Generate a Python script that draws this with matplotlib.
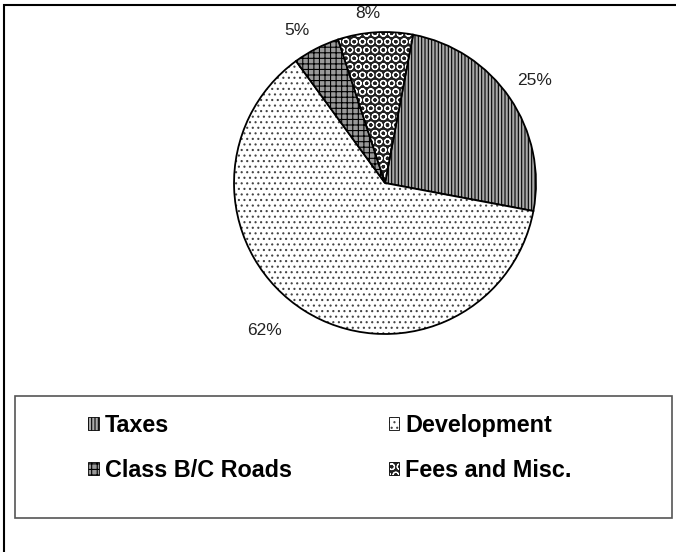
import numpy as np
import matplotlib.pyplot as plt
from matplotlib.patches import Rectangle, Patch
from matplotlib.colors import to_rgba

plt.rcParams['font.family'] = ['Liberation Sans', 'DejaVu Sans']
plt.rcParams['hatch.linewidth'] = 0.8

categories = ['Taxes', 'Development', 'Class B/C Roads', 'Fees and Misc.']
shares = [25, 62, 5, 8]
pct_labels = ['25%', '62%', '5%', '8%']

hatches = ['|' * 5, '...', '+++', 'OO']
faces = ['#aaaaaa', 'white', '#999999', '#222222']
hatch_cols = ['black', '#444444', 'black', 'white']

fig = plt.figure(figsize=(6.76, 5.52), dpi=100)

# outer chart border (right/bottom sides fall off the picture)
fig.add_artist(Rectangle((4 / 676, -0.1), 1.2, 1.1 - 5 / 552, transform=fig.transFigure,
                         fill=False, edgecolor='black', linewidth=1.5))

ax = fig.add_axes([0.3462, 0.3949, 0.4467, 0.5471])
wedges, _ = ax.pie(shares, startangle=79.3, counterclock=False,
                   wedgeprops=dict(edgecolor='black', linewidth=1.3))
for w, h, fc, hc in zip(wedges, hatches, faces, hatch_cols):
    w.set_facecolor(fc)
    w.set_hatch(h)
    w._hatch_color = to_rgba(hc)
ax.set_xlim(-1, 1)
ax.set_ylim(-1, 1)
ax.set_aspect('equal')

# percentage labels outside the pie
shift = [0, -7, 3, 2]
dist = [1.2, 1.26, 1.17, 1.13]
for w, lab, s, d in zip(wedges, pct_labels, shift, dist):
    mid = np.deg2rad((w.theta1 + w.theta2) / 2 + s)
    ax.text(d * np.cos(mid), d * np.sin(mid), lab, ha='center', va='center',
            fontsize=12.5, color='#222222')

# legend frame
fig.add_artist(Rectangle((15 / 676, 1 - 518 / 552), 657 / 676, 122 / 552,
                         transform=fig.transFigure, fill=False,
                         edgecolor='#555555', linewidth=1.2))

handles = []
for f, h, c, n in zip(faces, hatches, hatch_cols, categories):
    p = Patch(facecolor=f, hatch=h, edgecolor='black', linewidth=0.6, label=n)
    p._hatch_color = to_rgba(c)
    handles.append(p)
order = [0, 2, 1, 3]
fig.legend([handles[i] for i in order], [categories[i] for i in order],
           ncol=2, loc='upper left', bbox_to_anchor=(88 / 676, 1 - 414 / 552),
           frameon=False, borderpad=0, borderaxespad=0,
           handlelength=0.45, handleheight=0.5, handletextpad=0.27,
           columnspacing=4.15, labelspacing=0.93,
           prop=dict(weight='bold', size=16.8))

fig.savefig('out.png', dpi=100)
